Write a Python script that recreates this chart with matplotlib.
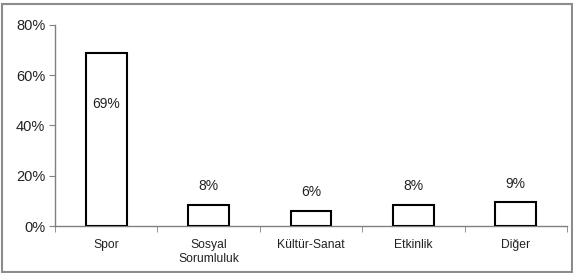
import matplotlib
matplotlib.use("Agg")
import matplotlib.pyplot as plt
from matplotlib.patches import Rectangle

categories = ["Spor", "Sosyal\nSorumluluk", "Kültür-Sanat", "Etkinlik", "Diğer"]
values = [69.0, 8.3, 6.1, 8.3, 9.4]
labels = ["69%", "8%", "6%", "8%", "9%"]
yticks = [0, 20, 40, 60, 80]
ytick_labels = ["0%", "20%", "40%", "60%", "80%"]

plt.rcParams['font.family'] = ['Liberation Sans', 'DejaVu Sans']

fig = plt.figure(figsize=(5.73, 2.73), dpi=100)
ax = fig.add_axes([55/573, 47/273, 512/573, 201/273])

x = list(range(len(categories)))
ax.bar(x, values, width=0.4, color='white', edgecolor='black', linewidth=1.5, zorder=3)

for i, (v, lab) in enumerate(zip(values, labels)):
    if i == 0:
        ax.annotate(lab, (i, v), xytext=(0, -37), textcoords='offset points',
                    ha='center', va='center', fontsize=10, color='#222222')
    else:
        ax.annotate(lab, (i, v), xytext=(0, 13.5), textcoords='offset points',
                    ha='center', va='center', fontsize=10, color='#222222')

ax.set_xlim(-0.5, len(categories) - 0.5)
ax.set_ylim(0, 80)
ax.set_yticks(yticks)
ax.set_yticklabels(ytick_labels, fontsize=10.5, color='#222222')

ax.set_xticks(x)
ax.set_xticklabels(categories, fontsize=8.7, color='#222222', linespacing=1.2)
ax.tick_params(axis='x', which='major', length=0, pad=9.5)
ax.set_xticks([i - 0.5 for i in range(len(categories) + 1)], minor=True)
ax.tick_params(axis='x', which='minor', length=4, color='#808080', direction='out')
ax.tick_params(axis='y', length=4, color='#808080', direction='out', pad=3)

for s in ['top', 'right']:
    ax.spines[s].set_visible(False)
for s in ['left', 'bottom']:
    ax.spines[s].set_color('#808080')
    ax.spines[s].set_linewidth(1.0)

fig.patches.append(Rectangle((1.5/573, 1.5/273), 570/573, 268/273, transform=fig.transFigure,
                             fill=False, edgecolor='#8c8c8c', linewidth=1.5))

fig.savefig("out.png", dpi=100)
